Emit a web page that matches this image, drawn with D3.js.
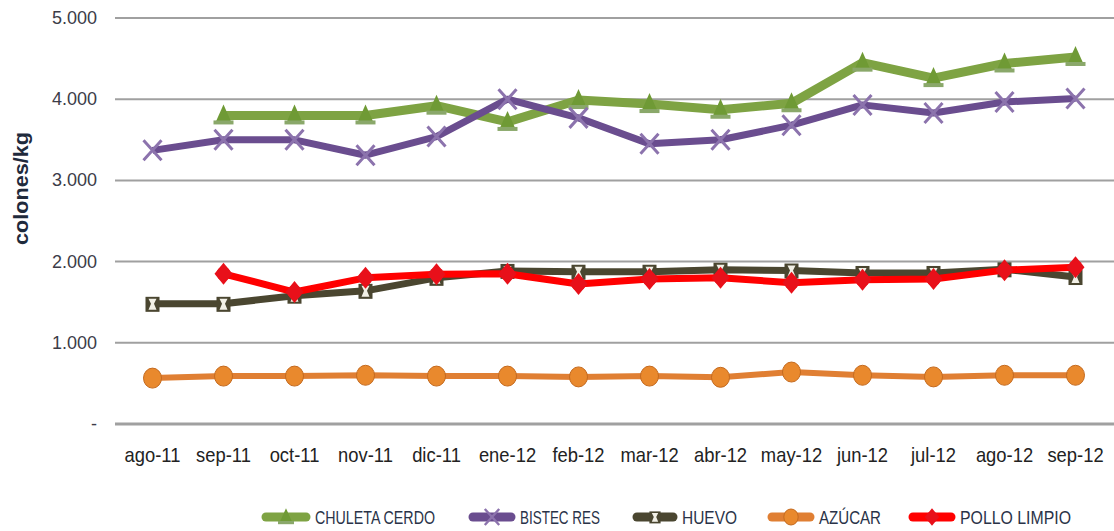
<!DOCTYPE html>
<html>
<head>
<meta charset="utf-8">
<script src="https://cdn.jsdelivr.net/npm/d3@7"></script>
<style>
  body { margin: 0; background: #fff; }
  svg { display: block; }
</style>
</head>
<body>
<div class="chart"></div>
<script>
// chart data
var months = ["ago-11", "sep-11", "oct-11", "nov-11", "dic-11", "ene-12", "feb-12",
  "mar-12", "abr-12", "may-12", "jun-12", "jul-12", "ago-12", "sep-12"];
var yTicks = [0, 1000, 2000, 3000, 4000, 5000];

var chuletaCerdo = [null, 3800, 3800, 3800, 3920, 3720, 3990, 3940, 3870, 3950, 4450, 4260, 4440, 4520];
var bistecRes = [3370, 3500, 3500, 3310, 3540, 4000, 3770, 3450, 3500, 3680, 3930, 3830, 3965, 4010];
var huevo = [1480, 1480, 1580, 1640, 1800, 1885, 1875, 1875, 1900, 1890, 1860, 1860, 1905, 1810];
var azucar = [565, 590, 590, 600, 590, 590, 580, 590, 575, 640, 600, 580, 600, 600];
var polloLimpio = [null, 1850, 1625, 1800, 1845, 1850, 1725, 1785, 1800, 1740, 1775, 1785, 1895, 1930];

var seriesNames = ["CHULETA CERDO", "BISTEC RES", "HUEVO", "AZÚCAR", "POLLO LIMPIO"];
var seriesValues = [chuletaCerdo, bistecRes, huevo, azucar, polloLimpio];

// styles
var styles = [
  { color: "#7ea343", width: 9, marker: "triangle", mFill: "#6f9a35" },
  { color: "#6a4d8f", width: 7, marker: "cross", mFill: "#8c73ad" },
  { color: "#4a4630", width: 7, marker: "square", mFill: "#4a4630" },
  { color: "#e07f33", width: 6, marker: "circle", mFill: "#e9892d" },
  { color: "#ff0000", width: 7, marker: "diamond", mFill: "#e8101a" }
];

var widthSVG = 1114;
var heightSVG = 531;
var margins = { top: 18, right: 2, bottom: 107, left: 117 };
var font = "'Liberation Sans', Arial, sans-serif";

var svg = d3.select(".chart")
  .append("svg")
  .attr("width", widthSVG)
  .attr("height", heightSVG);

var x = d3.scaleBand()
  .domain(months)
  .range([margins.left, widthSVG - margins.right - 1]);

var y = d3.scaleLinear()
  .domain([0, 5000])
  .range([heightSVG - margins.bottom, margins.top]);

var fmt = function (v) {
  if (v === 0) return "-";
  return d3.format(",")(v).replace(/,/g, ".");
};

// gridlines
svg.append("g").selectAll("line")
  .data(yTicks)
  .enter()
  .append("line")
  .attr("x1", margins.left - 2)
  .attr("x2", widthSVG)
  .attr("y1", d => y(d))
  .attr("y2", d => y(d))
  .attr("stroke", "#a0a0a0")
  .attr("stroke-width", d => d === 0 ? 3 : 2);

// y axis labels
svg.append("g").selectAll("text")
  .data(yTicks)
  .enter()
  .append("text")
  .attr("x", 97)
  .attr("y", d => y(d) + 6)
  .attr("text-anchor", "end")
  .attr("font-family", font)
  .attr("font-size", 18)
  .attr("fill", "#3c3c48")
  .text(fmt);

svg.append("text")
  .attr("transform", "translate(28, 188.5) rotate(-90)")
  .attr("text-anchor", "middle")
  .attr("font-family", font)
  .attr("font-size", 20)
  .attr("font-weight", "bold")
  .attr("textLength", 113)
  .attr("lengthAdjust", "spacingAndGlyphs")
  .attr("fill", "#1f2a3c")
  .text("colones/kg");

// x axis labels
svg.append("g").selectAll("text")
  .data(months)
  .enter()
  .append("text")
  .attr("transform", d => `translate(${x(d) + x.bandwidth() / 2}, 462) scale(0.92, 1)`)
  .attr("text-anchor", "middle")
  .attr("font-family", font)
  .attr("font-size", 20)
  .attr("fill", "#222")
  .text(d => d);

// marker drawing
function drawMarker(g, kind, fill, cx, cy, s) {
  s = s || 1;
  if (kind === "triangle") {
    g.append("path")
      .attr("d", `M${cx},${cy - 11 * s} L${cx + 8 * s},${cy + 7 * s} L${cx - 8 * s},${cy + 7 * s} Z`)
      .attr("fill", fill);
    g.append("rect")
      .attr("x", cx - 10 * s).attr("y", cy + 5 * s)
      .attr("width", 20 * s).attr("height", 4 * s)
      .attr("fill", "#8aa86a");
  } else if (kind === "cross") {
    g.append("path")
      .attr("d", `M${cx - 9 * s},${cy - 10 * s} L${cx + 9 * s},${cy + 10 * s} M${cx + 9 * s},${cy - 10 * s} L${cx - 9 * s},${cy + 10 * s}`)
      .attr("stroke", fill)
      .attr("stroke-width", 3 * s)
      .attr("fill", "none");
  } else if (kind === "square") {
    g.append("rect")
      .attr("x", cx - 7 * s).attr("y", cy - 7 * s)
      .attr("width", 14 * s).attr("height", 15 * s)
      .attr("fill", fill);
    g.append("path")
      .attr("d", `M${cx - 4 * s},${cy - 5 * s} L${cx + 4 * s},${cy - 5 * s} L${cx + 1.5 * s},${cy} L${cx + 4 * s},${cy + 6 * s} L${cx - 4 * s},${cy + 6 * s} L${cx - 1.5 * s},${cy} Z`)
      .attr("fill", "#f2f0e6");
  } else if (kind === "circle") {
    g.append("ellipse")
      .attr("cx", cx).attr("cy", cy)
      .attr("rx", 9 * s).attr("ry", 10 * s)
      .attr("fill", fill)
      .attr("stroke", "#c46a1f")
      .attr("stroke-width", 1);
  } else if (kind === "diamond") {
    g.append("path")
      .attr("d", `M${cx},${cy - 11 * s} L${cx + 9 * s},${cy} L${cx},${cy + 11 * s} L${cx - 9 * s},${cy} Z`)
      .attr("fill", fill);
    g.append("circle")
      .attr("cx", cx).attr("cy", cy).attr("r", 7 * s)
      .attr("fill", fill);
  }
}

// lines and markers
var line = d3.line()
  .defined(d => d.v !== null)
  .x(d => x(d.m) + x.bandwidth() / 2)
  .y(d => y(d.v));

seriesValues.forEach(function (vals, i) {
  var st = styles[i];
  var pts = months.map((m, j) => ({ m: m, v: vals[j] }));
  var g = svg.append("g");
  g.append("path")
    .datum(pts)
    .attr("d", line)
    .attr("fill", "none")
    .attr("stroke", st.color)
    .attr("stroke-width", st.width)
    .attr("stroke-linejoin", "round");
  pts.filter(d => d.v !== null).forEach(function (d) {
    drawMarker(g, st.marker, st.mFill, x(d.m) + x.bandwidth() / 2, y(d.v));
  });
});

// legend
var legendLineX = [262, 469, 633, 768, 909];
var legendTextX = [315, 520, 682, 819, 960];
var legendTextW = [120, 80, 55, 62, 111];
var legend = svg.append("g");
seriesNames.forEach(function (name, i) {
  var st = styles[i];
  var lx = legendLineX[i];
  var tx = legendTextX[i];
  var ly = 517;
  legend.append("line")
    .attr("x1", lx + 4).attr("x2", tx - 9)
    .attr("y1", ly).attr("y2", ly)
    .attr("stroke", st.color)
    .attr("stroke-width", 9)
    .attr("stroke-linecap", "round");
  drawMarker(legend, st.marker, st.mFill, (lx + tx - 5) / 2, ly, 0.8);
  legend.append("text")
    .attr("x", tx)
    .attr("y", ly + 7)
    .attr("font-family", font)
    .attr("font-size", 19)
    .attr("textLength", legendTextW[i])
    .attr("lengthAdjust", "spacingAndGlyphs")
    .attr("fill", "#2a3348")
    .text(name);
});
</script>
</body>
</html>
